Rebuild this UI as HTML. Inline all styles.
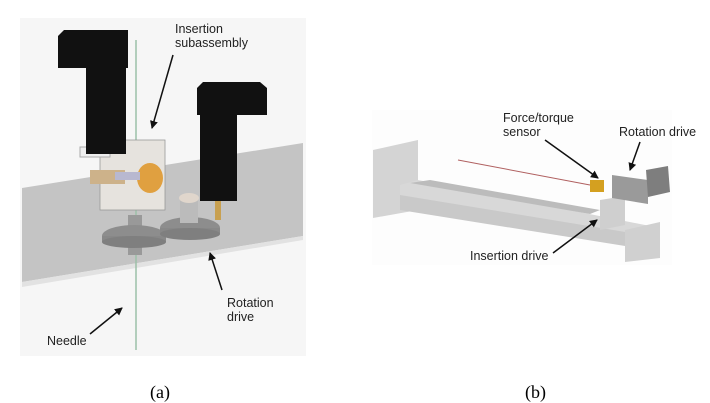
<!DOCTYPE html>
<html><head><meta charset="utf-8"><style>
html,body{margin:0;padding:0;background:#fff;}
svg{display:block;}
text{font-family:"Liberation Sans",sans-serif;font-size:12.5px;fill:#222;}
.s{font-family:"Liberation Serif",serif;font-size:18px;fill:#000;}
</style></head><body>
<svg width="710" height="403" viewBox="0 0 710 403" xmlns="http://www.w3.org/2000/svg">
<defs><marker id="ah" markerWidth="8" markerHeight="8" refX="7" refY="4" orient="auto" markerUnits="userSpaceOnUse"><path d="M0,0 L8,4 L0,8 z" fill="#111"/></marker></defs>
<!-- panel a -->
<rect x="20" y="18" width="286" height="338" fill="#f6f6f6"/>
<polygon points="22,188 303,143 303,236 22,282" fill="#c4c4c4"/>
<polygon points="22,282 303,236 303,240 22,287" fill="#e2e2e2"/>
<line x1="136" y1="40" x2="136" y2="350" stroke="#9cc0a8" stroke-width="1.5"/>
<!-- assembly -->
<rect x="100" y="140" width="65" height="70" fill="#e6e3de" stroke="#999" stroke-width="0.8"/>
<rect x="80" y="147" width="30" height="10" fill="#eee" stroke="#aaa"/>
<ellipse cx="150" cy="178" rx="13" ry="15" fill="#e0a040"/>
<rect x="90" y="170" width="35" height="14" fill="#cdb28a"/>
<rect x="115" y="172" width="25" height="8" fill="#b8b8d0"/>
<rect x="128" y="215" width="14" height="40" fill="#999"/>
<ellipse cx="134" cy="236" rx="32" ry="11" fill="#8d8d8d"/>
<rect x="102" y="236" width="64" height="6" fill="#888"/>
<ellipse cx="134" cy="242" rx="32" ry="6" fill="#7f7f7f"/>
<ellipse cx="190" cy="228" rx="30" ry="11" fill="#8d8d8d"/>
<rect x="160" y="228" width="60" height="6" fill="#888"/>
<ellipse cx="190" cy="234" rx="30" ry="6" fill="#7f7f7f"/>
<rect x="180" y="198" width="18" height="25" fill="#bbb"/>
<ellipse cx="189" cy="198" rx="10" ry="5" fill="#e0d6cc"/>
<rect x="215" y="198" width="6" height="22" fill="#c8a050"/>
<!-- motors -->
<polygon points="58,36 64,30 128,30 128,68 58,68" fill="#111"/>
<rect x="86" y="66" width="40" height="88" fill="#111"/>
<polygon points="197,88 203,82 260,82 267,88 267,115 197,115" fill="#111"/>
<rect x="200" y="113" width="37" height="88" fill="#111"/>
<text x="175" y="33">Insertion</text>
<text x="175" y="47">subassembly</text>
<line x1="173" y1="55" x2="152" y2="128" stroke="#111" stroke-width="1.5" marker-end="url(#ah)"/>
<text x="47" y="345">Needle</text>
<line x1="90" y1="334" x2="122" y2="308" stroke="#111" stroke-width="1.5" marker-end="url(#ah)"/>
<text x="227" y="307">Rotation</text>
<text x="227" y="321">drive</text>
<line x1="222" y1="290" x2="210" y2="253" stroke="#111" stroke-width="1.5" marker-end="url(#ah)"/>
<text class="s" x="150" y="398">(a)</text>
<!-- panel b -->
<rect x="372" y="110" width="300" height="155" fill="#fdfdfd"/>
<polygon points="373,150 418,140 418,210 373,218" fill="#d4d4d4"/>
<polygon points="400,185 418,180 650,226 650,240 400,198" fill="#d8d8d8"/>
<polygon points="400,195 650,236 650,250 400,210" fill="#c9c9c9"/>
<polygon points="410,183 430,180 600,210 590,214" fill="#bcbcbc"/>
<polygon points="625,230 660,222 660,258 625,262" fill="#d0d0d0"/>
<polygon points="600,200 625,196 625,225 600,230" fill="#cfcfcf"/>
<line x1="458" y1="160" x2="590" y2="185" stroke="#b06060" stroke-width="1"/>
<rect x="590" y="180" width="14" height="12" fill="#d4a020"/>
<polygon points="612,175 648,180 648,204 612,198" fill="#9a9a9a"/>
<polygon points="646,170 668,166 670,192 648,197" fill="#7e7e7e"/>
<text x="503" y="122">Force/torque</text>
<text x="503" y="136">sensor</text>
<line x1="545" y1="140" x2="598" y2="178" stroke="#111" stroke-width="1.5" marker-end="url(#ah)"/>
<text x="619" y="136">Rotation drive</text>
<line x1="640" y1="142" x2="630" y2="170" stroke="#111" stroke-width="1.5" marker-end="url(#ah)"/>
<text x="470" y="260">Insertion drive</text>
<line x1="553" y1="253" x2="597" y2="220" stroke="#111" stroke-width="1.5" marker-end="url(#ah)"/>
<text class="s" x="525" y="398">(b)</text>
</svg>
</body></html>
